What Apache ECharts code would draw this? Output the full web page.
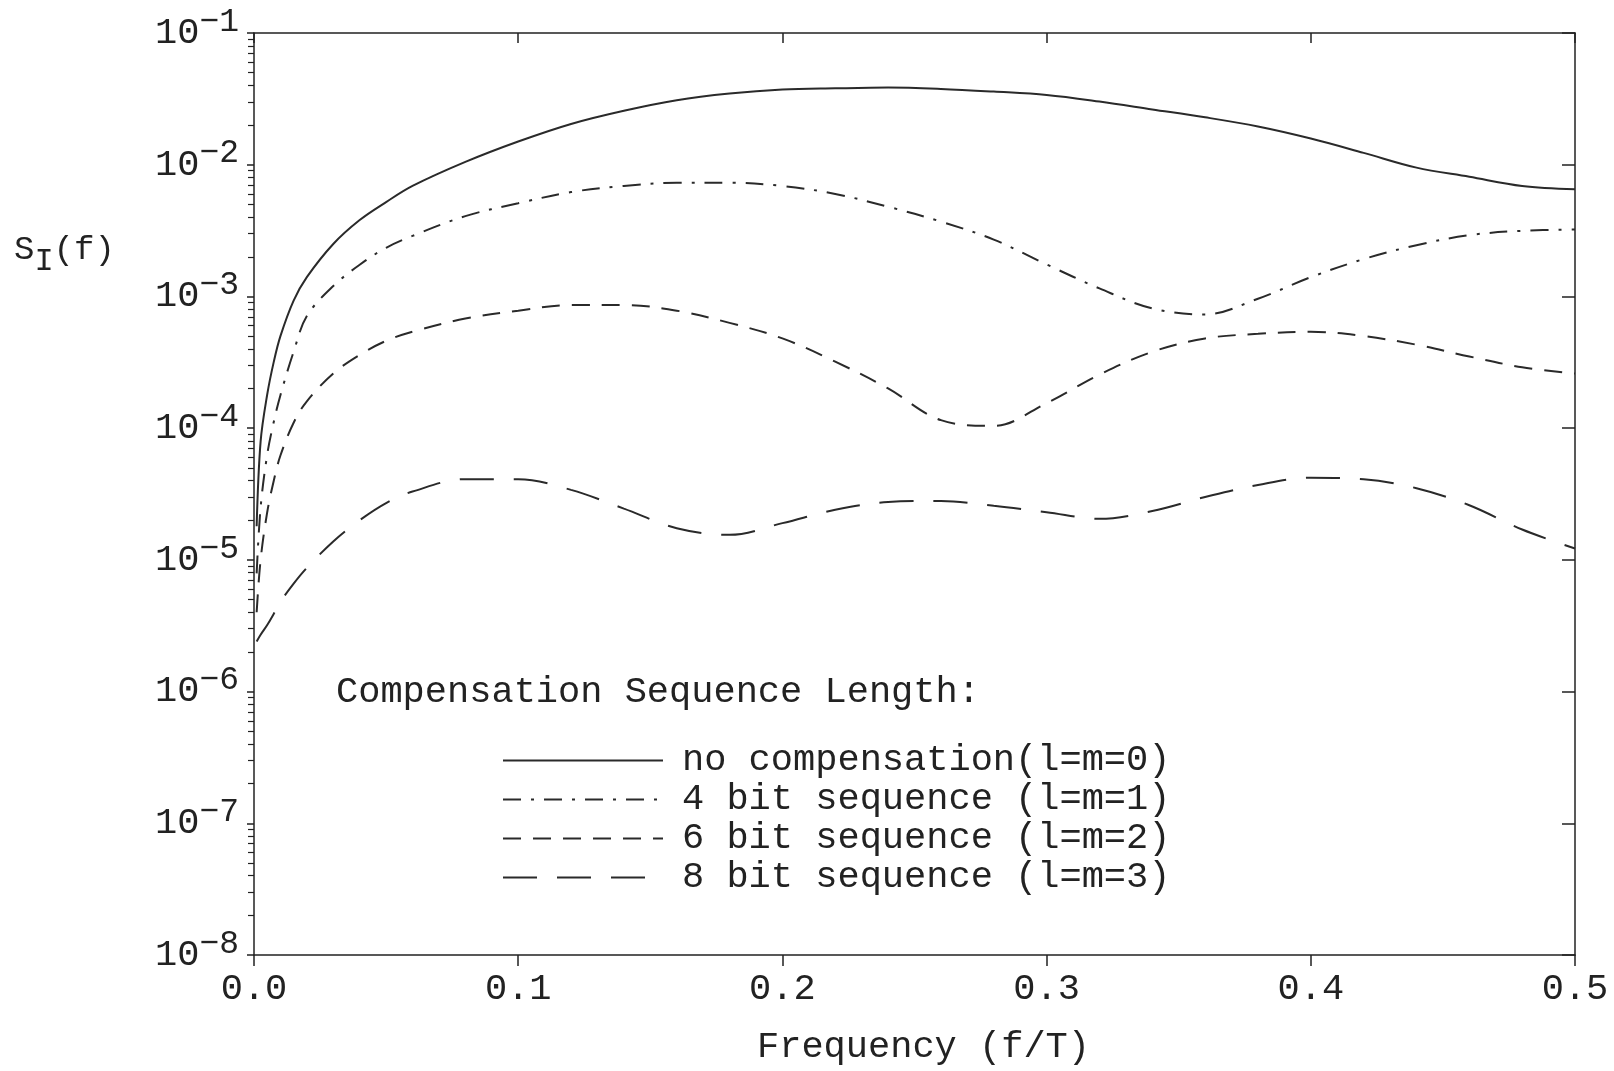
<!DOCTYPE html>
<html>
<head>
<meta charset="utf-8">
<script src="https://cdn.jsdelivr.net/npm/echarts@6/dist/echarts.min.js"></script>
<style>
html,body{margin:0;padding:0;background:#fff;}
#chart{width:1614px;height:1071px;}
</style>
</head>
<body>
<div id="chart"></div>
<script>
// ---- data ----
const freq = [0.001,0.0025,0.005,0.0075,0.01,0.015,0.02,0.03,0.04,0.05,0.06,0.08,
  0.10,0.12,0.14,0.16,0.18,0.20,0.22,0.24,0.26,0.28,0.30,0.32,0.34,0.36,0.38,0.40,0.42,0.44,0.46,0.48,0.50];
const noComp = [1.8e-5,7.9e-5,1.8e-4,3.2e-4,5.0e-4,9.3e-4,1.4e-3,2.5e-3,3.8e-3,5.2e-3,6.9e-3,1.05e-2,
  1.5e-2,2.04e-2,2.57e-2,3.09e-2,3.47e-2,3.72e-2,3.8e-2,3.85e-2,3.76e-2,3.59e-2,3.39e-2,3.02e-2,2.63e-2,2.29e-2,1.95e-2,1.58e-2,1.23e-2,9.5e-3,8.1e-3,6.9e-3,6.5e-3];
const bit4 = [7.9e-6,2.5e-5,6.3e-5,1.12e-4,1.78e-4,3.8e-4,7.1e-4,1.2e-3,1.74e-3,2.34e-3,2.88e-3,4.07e-3,
  5.1e-3,6.2e-3,6.9e-3,7.3e-3,7.3e-3,6.9e-3,6.0e-3,4.8e-3,3.7e-3,2.7e-3,1.75e-3,1.15e-3,8.1e-4,7.3e-4,9.6e-4,1.4e-3,1.92e-3,2.45e-3,2.92e-3,3.15e-3,3.22e-3];
const bit6 = [4.0e-6,1.0e-5,2.3e-5,4.0e-5,6.2e-5,1.1e-4,1.6e-4,2.6e-4,3.6e-4,4.6e-4,5.4e-4,6.8e-4,
  7.8e-4,8.6e-4,8.6e-4,7.8e-4,6.3e-4,4.8e-4,3.2e-4,2.0e-4,1.15e-4,1.04e-4,1.55e-4,2.55e-4,3.8e-4,4.8e-4,5.2e-4,5.4e-4,5.0e-4,4.3e-4,3.5e-4,2.9e-4,2.6e-4];
const bit8 = [2.4e-6,2.7e-6,3.2e-6,3.9e-6,4.8e-6,6.6e-6,8.7e-6,1.38e-5,2.0e-5,2.7e-5,3.3e-5,4.1e-5,
  4.1e-5,3.4e-5,2.45e-5,1.74e-5,1.55e-5,1.9e-5,2.4e-5,2.75e-5,2.8e-5,2.57e-5,2.3e-5,2.05e-5,2.35e-5,3.0e-5,3.7e-5,4.2e-5,4.1e-5,3.5e-5,2.6e-5,1.7e-5,1.22e-5];
const seriesNames = ['no compensation(l=m=0)','4 bit sequence (l=m=1)','6 bit sequence (l=m=2)','8 bit sequence (l=m=3)'];
const yDecades = [1e-8,1e-7,1e-6,1e-5,1e-4,1e-3,1e-2,1e-1];
const yDecadeLabels = ['-8','-7','-6','-5','-4','-3','-2','-1'];
const minorMultipliers = [2,3,4,5,6,7,8,9];
const xTickLabels = ['0.0','0.1','0.2','0.3','0.4','0.5'];
const legendTitle = 'Compensation Sequence Length:';
const xName = 'Frequency (f/T)';

// ---- build ----
const FONT = '"Liberation Mono", "DejaVu Sans Mono", monospace';
const INK = '#222';
const minorVals = [];
yDecades.slice(0, -1).forEach(d => minorMultipliers.forEach(m => minorVals.push(m * d)));
const pairs = arr => freq.map((f, i) => [f, arr[i]]);
const lineTypes = ['solid', [18, 10, 3, 10], [18, 12], [34, 20]];
const allData = [noComp, bit4, bit6, bit8];

const chart = echarts.init(document.getElementById('chart'), null, {renderer: 'canvas'});
const yBase = {type: 'log', logBase: 10, min: 1e-8, max: 1e-1, splitLine: {show: false}, gridIndex: 0};
chart.setOption({
  backgroundColor: '#fff',
  animation: false,
  grid: {left: 254, top: 33, right: 39, bottom: 115, containLabel: false},
  xAxis: [
    {type: 'value', position: 'bottom', min: 0, max: 0.5, interval: 0.1,
     axisLine: {show: true, lineStyle: {color: INK, width: 1.5}},
     axisTick: {show: true, inside: false, length: 11, lineStyle: {color: INK, width: 1.5}},
     splitLine: {show: false},
     axisLabel: {margin: 16, fontFamily: FONT, fontSize: 37, color: INK,
       formatter: v => xTickLabels[Math.round(v * 10)]},
     name: xName, nameLocation: 'middle', nameGap: 74,
     nameTextStyle: {fontFamily: FONT, fontSize: 37, color: INK, padding: [0, 0, 0, 18]}},
    {type: 'value', position: 'top', min: 0, max: 0.5, interval: 0.1,
     axisLine: {show: true, lineStyle: {color: INK, width: 1.5}},
     axisTick: {show: true, inside: true, length: 10, lineStyle: {color: INK, width: 1.5}},
     splitLine: {show: false}, axisLabel: {show: false}}
  ],
  yAxis: [
    Object.assign({}, yBase, {position: 'left',
      axisLine: {show: true, lineStyle: {color: INK, width: 1.5}},
      axisTick: {show: true, inside: false, length: 7, customValues: yDecades, lineStyle: {color: INK, width: 1.5}},
      axisLabel: {show: true, margin: 15, customValues: yDecades,
        formatter: v => {
          const i = yDecades.findIndex(d => Math.abs(Math.log10(d) - Math.log10(v)) < 1e-6);
          return '{b|10}{s|' + yDecadeLabels[i].replace('-', '\u2212') + '}';
        },
        rich: {
          b: {fontFamily: FONT, fontSize: 37, color: INK, verticalAlign: 'bottom', lineHeight: 37},
          s: {fontFamily: FONT, fontSize: 33, color: INK, verticalAlign: 'bottom', lineHeight: 33, padding: [0, 0, 13, 0]}
        }}}),
    Object.assign({}, yBase, {position: 'left',
      axisLine: {show: false},
      axisTick: {show: true, inside: false, length: 6, customValues: minorVals, lineStyle: {color: INK, width: 1.2}},
      axisLabel: {show: false}}),
    Object.assign({}, yBase, {position: 'right',
      axisLine: {show: true, lineStyle: {color: INK, width: 1.5}},
      axisTick: {show: true, inside: true, length: 13, customValues: yDecades, lineStyle: {color: INK, width: 1.5}},
      axisLabel: {show: false}})
  ],
  legend: {
    data: seriesNames, orient: 'vertical', left: 497, top: 737,
    itemWidth: 160, itemHeight: 14, itemGap: 2,
    itemStyle: {opacity: 0, borderWidth: 0},
    textStyle: {fontFamily: FONT, fontSize: 37, color: INK, lineHeight: 36, padding: [0, 0, 0, 14]},
    inactiveColor: INK
  },
  series: seriesNames.map((name, k) => ({
    name, type: 'line', xAxisIndex: 0, yAxisIndex: 0,
    data: pairs(allData[k]), symbol: 'none', showSymbol: false, smooth: 0.35,
    lineStyle: {color: '#2a2a2a', width: 2, type: lineTypes[k]},
    itemStyle: {color: '#2a2a2a'}, clip: true
  })),
  graphic: [
    {type: 'text', left: 336, top: 674,
     style: {text: legendTitle, font: '37px ' + FONT, fill: INK}},
    {type: 'text', left: 14, top: 233,
     style: {text: '{a|S}{b|I}{a|(f)}', fill: INK,
       rich: {a: {fontFamily: FONT, fontSize: 34, fill: INK, verticalAlign: 'top', lineHeight: 34},
              b: {fontFamily: FONT, fontSize: 32, fill: INK, verticalAlign: 'top', lineHeight: 32, padding: [13, 0, 0, 0]}}}}
  ]
});
</script>
</body>
</html>
